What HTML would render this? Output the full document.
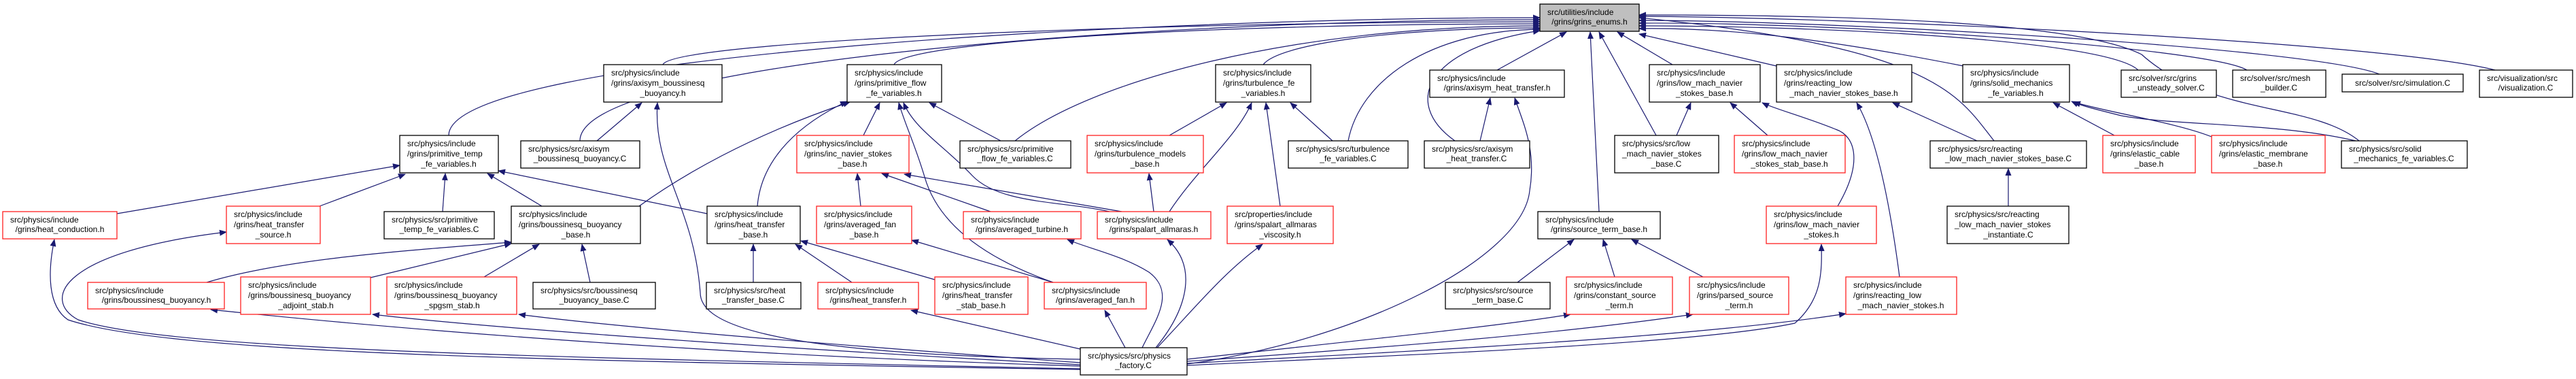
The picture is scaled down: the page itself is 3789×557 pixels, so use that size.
<!DOCTYPE html>
<html><head><meta charset="utf-8"><style>
html,body{margin:0;padding:0;background:#fff;}
svg{display:block;}
text{font-family:"Liberation Sans",Arial,sans-serif;font-size:12px;fill:#000;}
.k{fill:#fff;stroke:#000;stroke-width:1.3;}
.r{fill:#fff;stroke:#ff2020;stroke-width:1.3;}
.e{fill:none;stroke:#191970;stroke-width:1.2;marker-end:url(#ah);}
</style></head><body>
<svg width="3789" height="557" viewBox="0 0 3789 557" xmlns="http://www.w3.org/2000/svg">
<defs><marker id="ah" markerWidth="11" markerHeight="9" refX="10" refY="4.5" orient="auto" markerUnits="userSpaceOnUse"><path d="M0,0 L11,4.5 L0,9 z" fill="#191970"/></marker></defs>
<g>
<path class="e" d="M660,199 C660,80 1700,26 2265,26"/>
<path class="e" d="M853,207 C853,90 1700,29 2265,29"/>
<path class="e" d="M975,95 C990,60 1700,32 2265,32"/>
<path class="e" d="M1315,95 C1330,60 1800,35 2265,35"/>
<path class="e" d="M1493,207 C1600,120 1900,38 2265,38"/>
<path class="e" d="M1858,95 C1880,65 2050,41 2265,41"/>
<path class="e" d="M1983,207 C2000,120 2100,45 2265,43"/>
<path class="e" d="M2140,207 C2060,150 2100,70 2265,45"/>
<path class="e" d="M2202,103 L2304,47"/>
<path class="e" d="M2352,311 L2339,47"/>
<path class="e" d="M2436,199 L2352,47"/>
<path class="e" d="M2460,95 L2379,47"/>
<path class="e" d="M2613,97 L2411,50"/>
<path class="e" d="M2933,207 C2880,140 2850,70 2411,26"/>
<path class="e" d="M2888,97 C2700,60 2550,40 2411,42"/>
<path class="e" d="M3145,103 C3100,60 2700,38 2411,38"/>
<path class="e" d="M3305,103 C3250,70 2700,32 2411,34"/>
<path class="e" d="M3500,109 C3400,70 2700,30 2411,30"/>
<path class="e" d="M3670,103 C3500,60 2700,25 2411,24"/>
<path class="e" d="M3470,207 C3400,150 3250,170 3150,80 C3050,30 2700,22 2411,22"/>
<path class="e" d="M172,314 L588,243"/>
<path class="e" d="M470,303 L596,256"/>
<path class="e" d="M651,311 L655,255"/>
<path class="e" d="M797,303 L717,255"/>
<path class="e" d="M1040,314 L733,251"/>
<path class="e" d="M878,207 L944,151"/>
<path class="e" d="M1589,528 C1100,520 1030,470 1030,430 C1020,300 960,250 967,151"/>
<path class="e" d="M1270,199 L1294,151"/>
<path class="e" d="M1472,207 L1367,151"/>
<path class="e" d="M940,303 C1000,260 1100,200 1250,150"/>
<path class="e" d="M1114,303 C1120,230 1180,180 1246,149"/>
<path class="e" d="M1632,311 C1560,295 1470,300 1430,258 C1390,215 1345,190 1329,151"/>
<path class="e" d="M1549,415 C1450,380 1380,330 1360,260 C1345,210 1330,180 1322,151"/>
<path class="e" d="M1266,303 L1261,255"/>
<path class="e" d="M1457,311 L1297,255"/>
<path class="e" d="M1650,311 L1330,256"/>
<path class="e" d="M1720,199 L1804,151"/>
<path class="e" d="M1720,311 C1760,250 1820,200 1841,151"/>
<path class="e" d="M1883,303 L1862,151"/>
<path class="e" d="M1960,207 L1898,151"/>
<path class="e" d="M1697,311 L1690,255"/>
<path class="e" d="M1549,415 L1341,353"/>
<path class="e" d="M1108,415 L1108,359"/>
<path class="e" d="M1253,415 L1170,359"/>
<path class="e" d="M1375,411 L1178,354"/>
<path class="e" d="M304,415 C420,380 600,368 752,356"/>
<path class="e" d="M545,408 L752,358"/>
<path class="e" d="M712,407 L793,359"/>
<path class="e" d="M868,415 L856,359"/>
<path class="e" d="M2177,207 L2192,144"/>
<path class="e" d="M1746,535 C2000,500 2240,380 2250,280 C2260,220 2240,180 2228,144"/>
<path class="e" d="M2232,415 L2315,352"/>
<path class="e" d="M2375,407 L2358,352"/>
<path class="e" d="M2505,407 L2400,352"/>
<path class="e" d="M2466,199 L2487,151"/>
<path class="e" d="M2600,199 L2545,151"/>
<path class="e" d="M2703,303 C2740,240 2730,200 2700,190 C2650,170 2610,160 2592,151"/>
<path class="e" d="M2908,207 L2784,151"/>
<path class="e" d="M2794,407 C2780,300 2760,200 2731,151"/>
<path class="e" d="M2954,303 L2954,248"/>
<path class="e" d="M3110,199 L3020,151"/>
<path class="e" d="M3253,201 C3200,180 3100,165 3050,150"/>
<path class="e" d="M3465,207 C3350,180 3200,185 3120,170 C3080,160 3060,155 3047,149"/>
<path class="e" d="M1589,543 C800,530 250,520 100,470 C70,450 70,400 80,352"/>
<path class="e" d="M1589,542 C800,525 250,515 115,470 C60,440 90,370 333,341"/>
<path class="e" d="M1589,538 C1000,520 550,480 310,455"/>
<path class="e" d="M1589,536 C1100,510 700,480 548,462"/>
<path class="e" d="M1589,533 C1200,505 900,480 763,462"/>
<path class="e" d="M1589,513 L1340,456"/>
<path class="e" d="M1655,511 L1625,456"/>
<path class="e" d="M1680,511 C1700,470 1730,430 1690,400 C1650,375 1600,365 1570,352"/>
<path class="e" d="M1700,511 C1750,450 1760,390 1717,352"/>
<path class="e" d="M1702,511 C1760,450 1800,400 1857,359"/>
<path class="e" d="M1746,528 C2000,500 2200,480 2310,462"/>
<path class="e" d="M1746,531 C2050,510 2300,490 2490,462"/>
<path class="e" d="M1746,537 C2100,520 2500,505 2640,475 C2680,440 2680,400 2679,359"/>
<path class="e" d="M1746,534 C2100,515 2500,495 2715,461"/>
</g>

<!-- root -->
<rect x="2265" y="6" width="146" height="40" fill="#bfbfbf" stroke="#000" stroke-width="1.3"/>
<text x="2276" y="22">src/utilities/include</text><text x="2338" y="36" text-anchor="middle">/grins/grins_enums.h</text>

<!-- row1 -->
<rect class="k" x="888" y="95" width="174" height="55"/><text x="899" y="111">src/physics/include</text><text x="899" y="126">/grins/axisym_boussinesq</text><text x="975" y="141" text-anchor="middle">_buoyancy.h</text>
<rect class="k" x="1246" y="95" width="139" height="55"/><text x="1257" y="111">src/physics/include</text><text x="1257" y="126">/grins/primitive_flow</text><text x="1315" y="141" text-anchor="middle">_fe_variables.h</text>
<rect class="k" x="1788" y="95" width="140" height="55"/><text x="1799" y="111">src/physics/include</text><text x="1799" y="126">/grins/turbulence_fe</text><text x="1858" y="141" text-anchor="middle">_variables.h</text>
<rect class="k" x="2103" y="103" width="198" height="40"/><text x="2114" y="119">src/physics/include</text><text x="2202" y="133" text-anchor="middle">/grins/axisym_heat_transfer.h</text>
<rect class="k" x="2426" y="95" width="163" height="55"/><text x="2437" y="111">src/physics/include</text><text x="2437" y="126">/grins/low_mach_navier</text><text x="2507" y="141" text-anchor="middle">_stokes_base.h</text>
<rect class="k" x="2613" y="95" width="199" height="55"/><text x="2624" y="111">src/physics/include</text><text x="2624" y="126">/grins/reacting_low</text><text x="2712" y="141" text-anchor="middle">_mach_navier_stokes_base.h</text>
<rect class="k" x="2887" y="95" width="157" height="55"/><text x="2898" y="111">src/physics/include</text><text x="2898" y="126">/grins/solid_mechanics</text><text x="2965" y="141" text-anchor="middle">_fe_variables.h</text>
<rect class="k" x="3120" y="103" width="140" height="40"/><text x="3131" y="119">src/solver/src/grins</text><text x="3190" y="133" text-anchor="middle">_unsteady_solver.C</text>
<rect class="k" x="3284" y="103" width="137" height="40"/><text x="3295" y="119">src/solver/src/mesh</text><text x="3352" y="133" text-anchor="middle">_builder.C</text>
<rect class="k" x="3445" y="109" width="178" height="26"/><text x="3534" y="126" text-anchor="middle">src/solver/src/simulation.C</text>
<rect class="k" x="3647" y="103" width="137" height="40"/><text x="3658" y="119">src/visualization/src</text><text x="3715" y="133" text-anchor="middle">/visualization.C</text>

<!-- row2 -->
<rect class="k" x="588" y="199" width="145" height="55"/><text x="599" y="215">src/physics/include</text><text x="599" y="230">/grins/primitive_temp</text><text x="660" y="245" text-anchor="middle">_fe_variables.h</text>
<rect class="k" x="766" y="207" width="175" height="40"/><text x="777" y="223">src/physics/src/axisym</text><text x="853" y="237" text-anchor="middle">_boussinesq_buoyancy.C</text>
<rect class="r" x="1172" y="199" width="165" height="55"/><text x="1183" y="215">src/physics/include</text><text x="1183" y="230">/grins/inc_navier_stokes</text><text x="1254" y="245" text-anchor="middle">_base.h</text>
<rect class="k" x="1412" y="207" width="163" height="40"/><text x="1423" y="223">src/physics/src/primitive</text><text x="1493" y="237" text-anchor="middle">_flow_fe_variables.C</text>
<rect class="r" x="1599" y="199" width="171" height="55"/><text x="1610" y="215">src/physics/include</text><text x="1610" y="230">/grins/turbulence_models</text><text x="1684" y="245" text-anchor="middle">_base.h</text>
<rect class="k" x="1895" y="207" width="176" height="40"/><text x="1906" y="223">src/physics/src/turbulence</text><text x="1983" y="237" text-anchor="middle">_fe_variables.C</text>
<rect class="k" x="2095" y="207" width="155" height="40"/><text x="2106" y="223">src/physics/src/axisym</text><text x="2172" y="237" text-anchor="middle">_heat_transfer.C</text>
<rect class="k" x="2375" y="199" width="153" height="55"/><text x="2386" y="215">src/physics/src/low</text><text x="2386" y="230">_mach_navier_stokes</text><text x="2451" y="245" text-anchor="middle">_base.C</text>
<rect class="r" x="2551" y="199" width="163" height="55"/><text x="2562" y="215">src/physics/include</text><text x="2562" y="230">/grins/low_mach_navier</text><text x="2632" y="245" text-anchor="middle">_stokes_stab_base.h</text>
<rect class="k" x="2839" y="207" width="230" height="40"/><text x="2850" y="223">src/physics/src/reacting</text><text x="2954" y="237" text-anchor="middle">_low_mach_navier_stokes_base.C</text>
<rect class="r" x="3093" y="199" width="136" height="55"/><text x="3104" y="215">src/physics/include</text><text x="3104" y="230">/grins/elastic_cable</text><text x="3161" y="245" text-anchor="middle">_base.h</text>
<rect class="r" x="3253" y="199" width="167" height="55"/><text x="3264" y="215">src/physics/include</text><text x="3264" y="230">/grins/elastic_membrane</text><text x="3336" y="245" text-anchor="middle">_base.h</text>
<rect class="k" x="3444" y="207" width="185" height="40"/><text x="3455" y="223">src/physics/src/solid</text><text x="3536" y="237" text-anchor="middle">_mechanics_fe_variables.C</text>

<!-- row3 -->
<rect class="r" x="4" y="311" width="168" height="40"/><text x="15" y="327">src/physics/include</text><text x="88" y="341" text-anchor="middle">/grins/heat_conduction.h</text>
<rect class="r" x="333" y="303" width="138" height="55"/><text x="344" y="319">src/physics/include</text><text x="344" y="334">/grins/heat_transfer</text><text x="402" y="349" text-anchor="middle">_source.h</text>
<rect class="k" x="565" y="311" width="162" height="40"/><text x="576" y="327">src/physics/src/primitive</text><text x="646" y="341" text-anchor="middle">_temp_fe_variables.C</text>
<rect class="k" x="752" y="303" width="190" height="55"/><text x="763" y="319">src/physics/include</text><text x="763" y="334">/grins/boussinesq_buoyancy</text><text x="847" y="349" text-anchor="middle">_base.h</text>
<rect class="k" x="1040" y="303" width="137" height="55"/><text x="1051" y="319">src/physics/include</text><text x="1051" y="334">/grins/heat_transfer</text><text x="1108" y="349" text-anchor="middle">_base.h</text>
<rect class="r" x="1201" y="303" width="140" height="55"/><text x="1212" y="319">src/physics/include</text><text x="1212" y="334">/grins/averaged_fan</text><text x="1271" y="349" text-anchor="middle">_base.h</text>
<rect class="r" x="1417" y="311" width="173" height="40"/><text x="1428" y="327">src/physics/include</text><text x="1503" y="341" text-anchor="middle">/grins/averaged_turbine.h</text>
<rect class="r" x="1614" y="311" width="167" height="40"/><text x="1625" y="327">src/physics/include</text><text x="1697" y="341" text-anchor="middle">/grins/spalart_allmaras.h</text>
<rect class="r" x="1805" y="303" width="156" height="55"/><text x="1816" y="319">src/properties/include</text><text x="1816" y="334">/grins/spalart_allmaras</text><text x="1883" y="349" text-anchor="middle">_viscosity.h</text>
<rect class="k" x="2262" y="311" width="180" height="40"/><text x="2273" y="327">src/physics/include</text><text x="2352" y="341" text-anchor="middle">/grins/source_term_base.h</text>
<rect class="r" x="2598" y="303" width="162" height="55"/><text x="2609" y="319">src/physics/include</text><text x="2609" y="334">/grins/low_mach_navier</text><text x="2679" y="349" text-anchor="middle">_stokes.h</text>
<rect class="k" x="2864" y="303" width="179" height="55"/><text x="2875" y="319">src/physics/src/reacting</text><text x="2875" y="334">_low_mach_navier_stokes</text><text x="2954" y="349" text-anchor="middle">_instantiate.C</text>

<!-- row4 -->
<rect class="r" x="129" y="415" width="201" height="39"/><text x="140" y="431">src/physics/include</text><text x="230" y="445" text-anchor="middle">/grins/boussinesq_buoyancy.h</text>
<rect class="r" x="354" y="407" width="191" height="55"/><text x="365" y="423">src/physics/include</text><text x="365" y="438">/grins/boussinesq_buoyancy</text><text x="450" y="453" text-anchor="middle">_adjoint_stab.h</text>
<rect class="r" x="569" y="407" width="191" height="55"/><text x="580" y="423">src/physics/include</text><text x="580" y="438">/grins/boussinesq_buoyancy</text><text x="665" y="453" text-anchor="middle">_spgsm_stab.h</text>
<rect class="k" x="784" y="415" width="180" height="39"/><text x="795" y="431">src/physics/src/boussinesq</text><text x="874" y="445" text-anchor="middle">_buoyancy_base.C</text>
<rect class="k" x="1039" y="415" width="139" height="39"/><text x="1050" y="431">src/physics/src/heat</text><text x="1108" y="445" text-anchor="middle">_transfer_base.C</text>
<rect class="r" x="1203" y="415" width="148" height="39"/><text x="1214" y="431">src/physics/include</text><text x="1277" y="445" text-anchor="middle">/grins/heat_transfer.h</text>
<rect class="r" x="1375" y="407" width="137" height="55"/><text x="1386" y="423">src/physics/include</text><text x="1386" y="438">/grins/heat_transfer</text><text x="1443" y="453" text-anchor="middle">_stab_base.h</text>
<rect class="r" x="1536" y="415" width="150" height="39"/><text x="1547" y="431">src/physics/include</text><text x="1611" y="445" text-anchor="middle">/grins/averaged_fan.h</text>
<rect class="k" x="2126" y="415" width="154" height="39"/><text x="2137" y="431">src/physics/src/source</text><text x="2203" y="445" text-anchor="middle">_term_base.C</text>
<rect class="r" x="2304" y="407" width="156" height="55"/><text x="2315" y="423">src/physics/include</text><text x="2315" y="438">/grins/constant_source</text><text x="2382" y="453" text-anchor="middle">_term.h</text>
<rect class="r" x="2485" y="407" width="146" height="55"/><text x="2496" y="423">src/physics/include</text><text x="2496" y="438">/grins/parsed_source</text><text x="2558" y="453" text-anchor="middle">_term.h</text>
<rect class="r" x="2715" y="407" width="163" height="55"/><text x="2726" y="423">src/physics/include</text><text x="2726" y="438">/grins/reacting_low</text><text x="2796" y="453" text-anchor="middle">_mach_navier_stokes.h</text>

<!-- row5 -->
<rect class="k" x="1589" y="511" width="157" height="40"/><text x="1600" y="527">src/physics/src/physics</text><text x="1667" y="541" text-anchor="middle">_factory.C</text>
</svg>
</body></html>
